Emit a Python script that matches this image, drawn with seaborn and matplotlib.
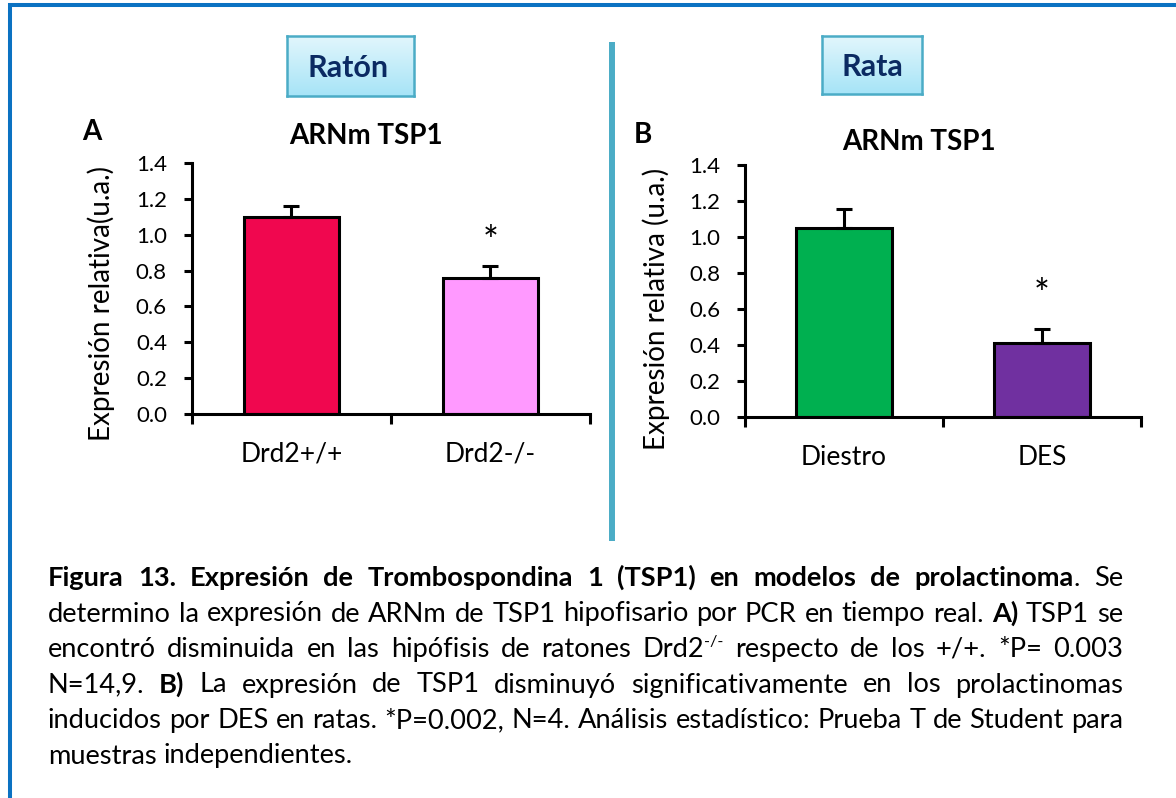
import numpy as np
import pandas as pd
import matplotlib
matplotlib.use("Agg")
import matplotlib.pyplot as plt
import seaborn as sns
from matplotlib.lines import Line2D
from matplotlib.colors import LinearSegmentedColormap

# ---------------- data ----------------
mouse_groups = ["Drd2+/+", "Drd2-/-"]
mouse_values = [1.10, 0.76]
mouse_err = [0.06, 0.065]
mouse_colors = ["#F0074F", "#FF99FF"]
mouse_sig = ["", "*"]
mouse_sig_y = [None, 1.00]

rat_groups = ["Diestro", "DES"]
rat_values = [1.05, 0.41]
rat_err = [0.105, 0.08]
rat_colors = ["#00B050", "#7030A0"]
rat_sig = ["", "*"]
rat_sig_y = [None, 0.717]

y_ticks = [0.0, 0.2, 0.4, 0.6, 0.8, 1.0, 1.2, 1.4]
panel_title = "ARNm TSP1"
ylabel_a = "Expresión relativa(u.a.)"
ylabel_b = "Expresión relativa (u.a.)"
species_a = "Ratón"
species_b = "Rata"

caption_lines = [
    [("Figura 13. Expresión de Trombospondina 1 (TSP1) en modelos de prolactinoma", "b"), (". Se", "n")],
    [("determino la expresión de ARNm de TSP1 hipofisario por PCR en tiempo real. ", "n"), ("A)", "b"), (" TSP1 se", "n")],
    [("encontró disminuida en las hipófisis de ratones Drd2", "n"), ("-/-", "sup"), (" respecto de los +/+. *P= 0.003", "n")],
    [("N=14,9. ", "n"), ("B)", "b"), (" La expresión de TSP1 disminuyó significativamente en los prolactinomas", "n")],
    [("inducidos por DES en ratas. *P=0.002, N=4. Análisis estadístico: Prueba T de Student para", "n")],
    [("muestras independientes.", "n")],
]

# ---------------- figure ----------------
W, H, DPI = 1176, 798, 100
sns.set_theme(style="white")
plt.rcParams["font.family"] = ["Lato", "DejaVu Sans"]
plt.rcParams["text.color"] = "black"
plt.rcParams["axes.labelcolor"] = "black"
plt.rcParams["xtick.color"] = "black"
plt.rcParams["ytick.color"] = "black"

fig = plt.figure(figsize=(W / DPI, H / DPI), dpi=DPI, facecolor="white")


def fx(x):
    return x / W


def fy(y):
    return 1 - y / H


def add_axes_px(l, t, r, b):
    return fig.add_axes([fx(l), fy(b), (r - l) / W, (b - t) / H])


LW = 2.2  # ~3 px


def bar_panel(rect, groups, values, err, colors, sig, sig_y):
    ax = add_axes_px(*rect)
    df = pd.DataFrame({"group": groups, "value": values})
    sns.barplot(data=df, x="group", y="value", hue="group", order=groups,
                palette=dict(zip(groups, colors)), saturation=1, edgecolor="black",
                linewidth=LW, width=0.48, errorbar=None, legend=False, ax=ax)
    xs = np.arange(len(groups))
    ax.errorbar(xs, values, yerr=[np.zeros(len(err)), err], fmt="none",
                ecolor="black", elinewidth=LW, capsize=6, capthick=LW, zorder=1)
    for xi, s, sy in zip(xs, sig, sig_y):
        if s:
            ax.text(xi, sy - 0.105, s, ha="center", va="baseline", fontsize=27)
    ax.set_xlim(-0.5, len(groups) - 0.5)
    ax.set_ylim(0, 1.4)
    ax.set_yticks(y_ticks)
    ax.set_yticklabels([f"{v:.1f}" for v in y_ticks])
    ax.set_xticks(xs)
    ax.set_xticklabels(groups)
    ax.set_xticks(np.arange(len(groups) + 1) - 0.5, minor=True)
    ax.set_xlabel("")
    ax.set_ylabel("")
    for side in ["top", "right"]:
        ax.spines[side].set_visible(False)
    for side in ["left", "bottom"]:
        ax.spines[side].set_linewidth(LW)
        ax.spines[side].set_color("black")
    ax.tick_params(axis="y", direction="out", length=6, width=LW, labelsize=16, pad=12, left=True)
    ax.tick_params(axis="x", which="major", length=0, labelsize=19, pad=20)
    ax.tick_params(axis="x", which="minor", direction="out", length=7, width=LW, bottom=True)
    ax.set_facecolor("none")
    ax.grid(False)
    return ax


axA = bar_panel((192, 163, 590, 414), mouse_groups, mouse_values, mouse_err, mouse_colors, mouse_sig, mouse_sig_y)
axB = bar_panel((745, 165, 1141, 417), rat_groups, rat_values, rat_err, rat_colors, rat_sig, rat_sig_y)

# titles, letters, y labels
fig.text(fx(366), fy(144.5), panel_title, ha="center", va="baseline", fontsize=20, fontweight="bold")
fig.text(fx(919), fy(149.5), panel_title, ha="center", va="baseline", fontsize=20, fontweight="bold")
fig.text(fx(92), fy(140), "A", ha="center", va="baseline", fontsize=20, fontweight="bold")
fig.text(fx(643), fy(143), "B", ha="center", va="baseline", fontsize=20, fontweight="bold")
fig.text(fx(101), fy(303.5), ylabel_a, rotation=90, ha="center", va="center", fontsize=20)
fig.text(fx(656), fy(309), ylabel_b, rotation=90, ha="center", va="center", fontsize=20)

# species boxes with gradient
grad_cmap = LinearSegmentedColormap.from_list("box", ["#E2F6FC", "#A6E4F7"])


def species_box(l, t, r, b, label, tx, base):
    bx = add_axes_px(l, t, r, b)
    bx.imshow(np.linspace(0, 1, 100).reshape(-1, 1), aspect="auto", cmap=grad_cmap,
              extent=[0, 1, 0, 1], origin="upper")
    bx.set_xticks([])
    bx.set_yticks([])
    for s in bx.spines.values():
        s.set_visible(True)
        s.set_color("#4BACC6")
        s.set_linewidth(1.8)
    fig.text(fx(tx), fy(base), label, ha="center", va="baseline", fontsize=22,
             fontweight="bold", color="#0B2A62")


species_box(287, 36, 414, 96, species_a, 348, 77)
species_box(822, 36, 922, 94, species_b, 872, 76)

# separator and outer frame
fig.add_artist(Line2D([fx(612), fx(612)], [fy(42), fy(541)], transform=fig.transFigure,
                      color="#4BACC6", linewidth=4.3, solid_capstyle="butt"))
fig.add_artist(Line2D([fx(8), 1.0], [fy(5), fy(5)], transform=fig.transFigure,
                      color="#0B72C2", linewidth=2.9, solid_capstyle="butt"))
fig.add_artist(Line2D([fx(10), fx(10)], [fy(3), 0.0], transform=fig.transFigure,
                      color="#0B72C2", linewidth=2.9, solid_capstyle="butt"))

# ---------------- justified caption ----------------
CAP_FS = 19.6
CAP_L, CAP_R = 48, 1123
CAP_BASE0, CAP_STEP = 586, 35.5
renderer = fig.canvas.get_renderer()


def make_piece(s, style):
    kw = dict(fontsize=CAP_FS, va="baseline", ha="left")
    if style == "b":
        kw["fontweight"] = "bold"
    if style == "sup":
        kw["fontsize"] = CAP_FS * 0.6
    t = fig.text(0, 0, s, **kw)
    w = t.get_window_extent(renderer).width
    return t, w, style


def tokenize(line):
    words = [[]]
    for text, style in line:
        parts = text.split(" ")
        for i, p in enumerate(parts):
            if i > 0:
                words.append([])
            if p:
                words[-1].append((p, style))
    return [w for w in words if w]


ta = fig.text(0, 0, "a a", fontsize=CAP_FS)
tb = fig.text(0, 0, "aa", fontsize=CAP_FS)
space_w = ta.get_window_extent(renderer).width - tb.get_window_extent(renderer).width
ta.remove()
tb.remove()

for li, line in enumerate(caption_lines):
    words = tokenize(line)
    built = [[make_piece(s, st) for s, st in w] for w in words]
    widths = [sum(p[1] for p in w) for w in built]
    if li < len(caption_lines) - 1 and len(words) > 1:
        gap = (CAP_R - CAP_L - sum(widths)) / (len(words) - 1)
    else:
        gap = space_w
    base = CAP_BASE0 + li * CAP_STEP
    x = CAP_L
    for w, ww in zip(built, widths):
        cx = x
        for t, pw, st in w:
            yy = base - (CAP_FS * 0.42 * DPI / 72 if st == "sup" else 0)
            t.set_position((fx(cx), fy(yy)))
            cx += pw
        x += ww + gap

fig.savefig("out.png", dpi=DPI, facecolor="white")
